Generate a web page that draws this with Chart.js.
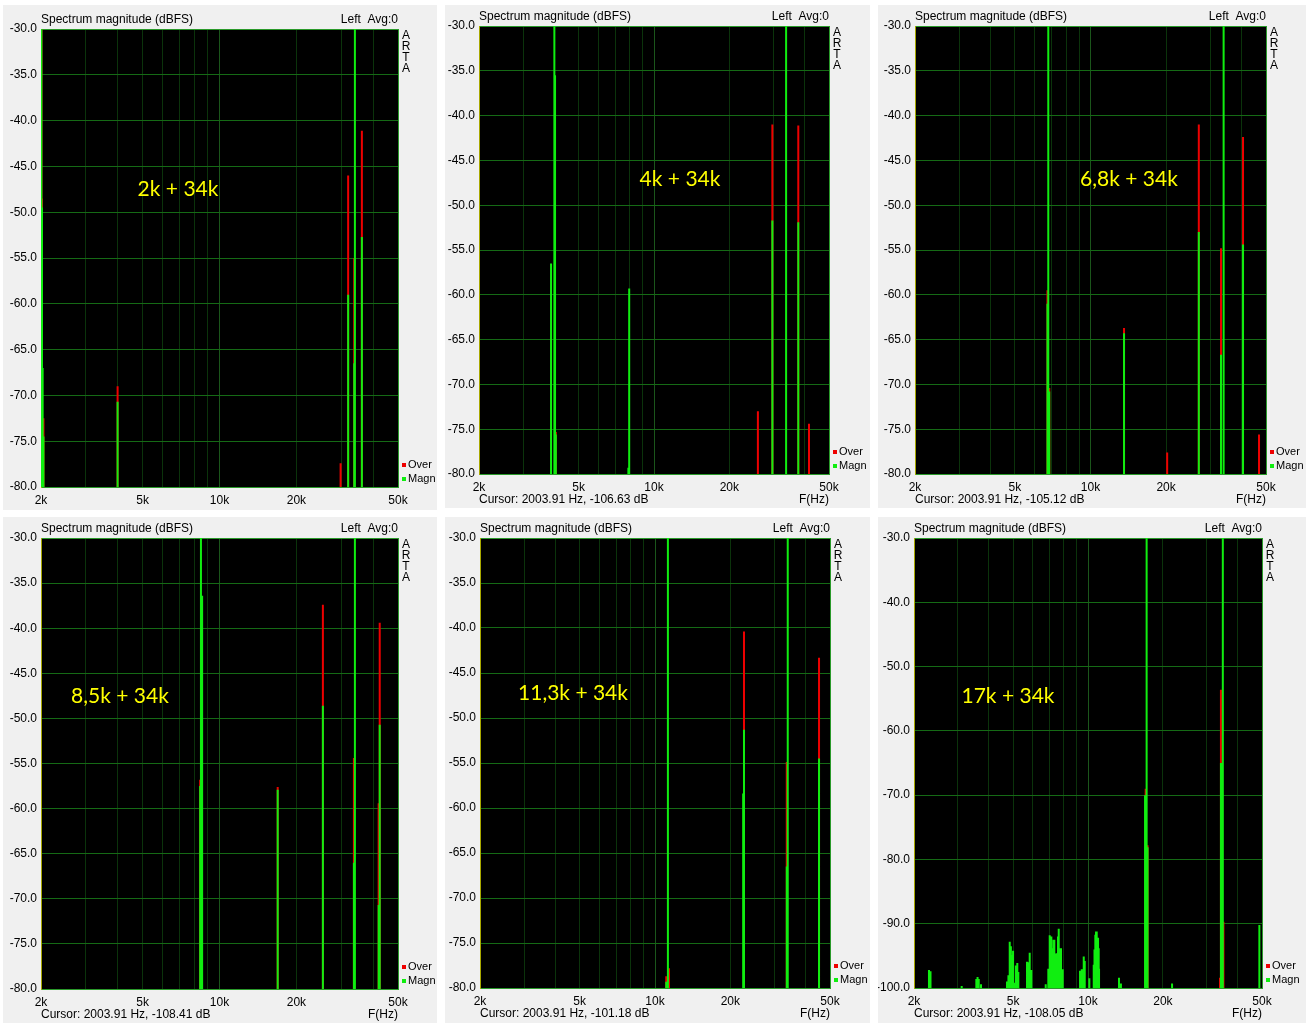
<!DOCTYPE html>
<html lang="en">
<head>
<meta charset="UTF-8">
<title>ARTA spectrum - two tone IMD</title>
<script src="https://cdn.jsdelivr.net/npm/chart.js@4"></script>
<style>
  body { margin: 0; background: #fff; width: 1311px; height: 1030px; position: relative; overflow: hidden; }
  canvas { position: absolute; background: #f0f0f0; }
</style>
</head>
<body>
<canvas id="c1"></canvas>
<canvas id="c2"></canvas>
<canvas id="c3"></canvas>
<canvas id="c4"></canvas>
<canvas id="c5"></canvas>
<canvas id="c6"></canvas>
<script>
// ---- data (Hz / dBFS) ----
const xTicks = [2000, 3000, 4000, 5000, 6000, 7000, 8000, 9000, 10000, 20000, 30000, 40000, 50000];
const xLabelVals = [2000, 5000, 10000, 20000, 50000];
const xLabelText = ['2k', '5k', '10k', '20k', '50k'];

const toneLabels = ['2k + 34k', '4k + 34k', '6,8k + 34k', '8,5k + 34k', '11,3k + 34k', '17k + 34k'];
const cursorText = ['', 'Cursor: 2003.91 Hz, -106.63 dB', 'Cursor: 2003.91 Hz, -105.12 dB',
                    'Cursor: 2003.91 Hz, -108.41 dB', 'Cursor: 2003.91 Hz, -101.18 dB', 'Cursor: 2003.91 Hz, -108.05 dB'];

const p1Freq = [2008, 2018, 2030, 2045, 3990, 29800, 31900, 33700, 33900, 36100];
const p1Magn = [-30, -49.5, -67, -74.5, -70.7, null, -59, -66.5, -30, -52.7];
const p1Over = [-30, -48.5, null, -72.5, -69, -77.4, -46, -55, null, -41.1];

const p2Freq = [3880, 4000, 4025, 4054, 7900, 7960, 26000, 29700, 33700, 37700, 41600];
const p2Magn = [-56.5, -30, -35.5, -75.6, -79.3, -59.3, null, -51.7, -30, -51.9, null];
const p2Over = [null, null, null, -75.3, null, null, -73, -41, null, -41.1, -74.4];

const p3Freq = [6740, 6790, 6850, 13600, 20200, 27000, 33100, 33900, 40500, 46900];
const p3Magn = [-61, -30, -70.8, -64.3, null, -53, -66.7, -30, -54.4, null];
const p3Over = [-59.5, null, -70.4, -63.7, -77.6, -41, -54.8, null, -42.4, -75.6];

const p4Freq = [8400, 8430, 8460, 8550, 16900, 25400, 33600, 33900, 42000, 42400];
const p4Magn = [-57.5, -57.5, -30, -36.4, -57.9, -48.6, -66, -30, -70.7, -50.7];
const p4Over = [-56.8, null, null, null, -57.6, -37.4, -54.4, null, -59.4, -39.4];

const p5Freq = [11090, 11260, 11370, 22500, 22670, 33600, 33900, 45200];
const p5Magn = [-79.3, -30, null, -58.4, -51.3, -66.5, -30, -54.5];
const p5Over = [-78.7, null, -77.8, null, -40.4, -54.9, null, -43.3];

const p6Freq = [13320, 13560, 16950, 17050, 17200, 17350, 21760, 33900, 34200, 34800, 35000, 48800];
const p6Magn = [-98.4, -99.3, -70, -70, -30, -78.1, -99.3, null, -65, -30, null, -90.2];
const p6Over = [null, null, null, -69, null, -77.8, null, -98.4, -53.6, null, -89.7, null];

// noise floor bits in the 17k panel
const n6Freq = [2297, 2330, 3109, 3560, 3600, 3640, 3717,
  4727, 4790, 4848, 4900, 4950, 5000, 5060, 5130, 5200, 5250,
  5689, 5734, 5779, 5832, 5876, 5920, 6763,
  6928, 6973, 7018, 7070, 7123, 7170, 7217, 7270, 7324, 7370, 7419, 7474, 7529, 7578, 7628, 7674, 7720, 7755, 7791, 7850, 7914,
  9290, 9360, 9439, 9525, 9614, 9703, 10126,
  10545, 10620, 10701, 10770, 10840, 10905, 10973, 11040, 11075];
const n6Magn = [-97.2, -97.4, -99.7, -98.6, -98.3, -98.6, -99.4,
  -99, -98, -92.8, -93.5, -94.9, -94.2, -99.2, -96.5, -96.1, -97.5,
  -95.9, -96.3, -96, -94.5, -97.2, -97.2, -99.4,
  -97, -97, -91.8, -92.4, -92, -93.8, -93.8, -92.5, -92.5, -94.7, -94.7, -94.6, -94.6, -92, -90.8, -94.6, -94.6, -93.8, -93.8, -97.1, -97.1,
  -97.3, -97.3, -97.1, -99, -95.1, -95.8, -98.5,
  -96.4, -94, -91.7, -91.2, -91.2, -92.2, -92.2, -93.8, -97];

// ---- look ----
const GREEN = '#10ee10';
const RED = '#ee0000';
const FRAME = '#2a9a2a';
const FONT = '"Liberation Sans", Arial, sans-serif';

// each spike is a vertical segment floor -> value, gaps break the line
function spikeLine(freq, vals, floor) {
  const pts = [];
  freq.forEach(function (f, i) {
    if (vals[i] == null) return;
    pts.push({ x: f, y: floor }, { x: f, y: vals[i] }, { x: f, y: null });
  });
  return pts;
}

const blackArea = {
  id: 'blackArea',
  beforeDraw(chart) {
    const a = chart.chartArea;
    chart.ctx.save();
    chart.ctx.fillStyle = '#000';
    chart.ctx.fillRect(a.left, a.top, a.right - a.left, a.bottom - a.top);
    chart.ctx.restore();
  }
};

const artaText = {
  id: 'artaText',
  afterDraw(chart, args, o) {
    const ctx = chart.ctx, a = chart.chartArea;
    ctx.save();
    ctx.fillStyle = '#000';
    ctx.font = '12px ' + FONT;
    ctx.textBaseline = 'middle';
    ctx.textAlign = 'left';
    ctx.fillText('Spectrum magnitude (dBFS)', a.left, a.top - 9);
    ctx.textAlign = 'right';
    ctx.fillText('Left  Avg:0', a.right, a.top - 9);
    ctx.textAlign = 'center';
    'ARTA'.split('').forEach(function (c, i) { ctx.fillText(c, a.right + 8, a.top + 7 + i * 11); });

    ctx.font = '11px ' + FONT;
    ctx.textAlign = 'left';
    ctx.fillStyle = RED;
    ctx.fillRect(a.right + 4, a.bottom - 24, 4, 4);
    ctx.fillStyle = GREEN;
    ctx.fillRect(a.right + 4, a.bottom - 10, 4, 4);
    ctx.fillStyle = '#000';
    ctx.fillText('Over', a.right + 10, a.bottom - 22);
    ctx.fillText('Magn', a.right + 10, a.bottom - 8);

    if (o.cursor) {
      ctx.font = '12px ' + FONT;
      ctx.fillText(o.cursor, a.left, a.bottom + 26);
      ctx.textAlign = 'right';
      ctx.fillText('F(Hz)', a.right, a.bottom + 26);
    }

    ctx.font = '21px Lato, "Open Sans", sans-serif';
    ctx.fillStyle = '#ffff00';
    ctx.textAlign = 'center';
    ctx.fillText(o.label, o.lx, o.ly);
    ctx.restore();
  }
};

function makeChart(id, box, area, floor, step, sets, label, labelPos, cursor) {
  const cv = document.getElementById(id);
  cv.width = box[2]; cv.height = box[3];
  cv.style.left = box[0] + 'px'; cv.style.top = box[1] + 'px';

  return new Chart(cv, {
    type: 'line',
    data: { datasets: sets },
    plugins: [blackArea, artaText],
    options: {
      responsive: false,
      animation: false,
      devicePixelRatio: 1,
      events: [],
      layout: { padding: { left: 0, top: area[1] - box[1], right: box[0] + box[2] - area[2], bottom: 0 } },
      elements: {
        line: { borderWidth: 2, tension: 0, borderCapStyle: 'butt', fill: false },
        point: { radius: 0 }
      },
      plugins: {
        legend: { display: false },
        tooltip: { enabled: false },
        artaText: { label: label, lx: labelPos[0] - box[0], ly: labelPos[1] - box[1], cursor: cursor }
      },
      scales: {
        x: {
          type: 'logarithmic',
          min: 2000,
          max: 50000,
          afterFit: function (s) { s.height = box[1] + box[3] - area[3]; },
          afterBuildTicks: function (s) { s.ticks = xTicks.map(function (v) { return { value: v }; }); },
          ticks: {
            autoSkip: false, maxRotation: 0, padding: 6, color: '#000',
            font: { family: FONT, size: 12 },
            callback: function (v) { const i = xLabelVals.indexOf(v); return i < 0 ? '' : xLabelText[i]; }
          },
          grid: {
            drawTicks: false,
            color: function (c) {
              const v = c.tick.value;
              if (v === 50000) return FRAME;
              if (v === 10000) return '#1b561b';
              return '#0b330b';
            }
          },
          border: { color: FRAME }
        },
        y: {
          min: floor,
          max: -30,
          afterFit: function (s) { s.width = area[0] - box[0]; },
          ticks: {
            stepSize: step, padding: 4, color: '#000',
            font: { family: FONT, size: 12 },
            callback: function (v) { return v.toFixed(1); }
          },
          grid: {
            drawTicks: false,
            color: function (c) { return c.tick.value === -30 || c.tick.value === floor ? FRAME : '#156a15'; }
          },
          border: { color: '#a8a800' }
        }
      }
    }
  });
}

function spikeSets(freq, magn, over, floor) {
  return [
    { label: 'Magn', data: spikeLine(freq, magn, floor), borderColor: GREEN, order: 0 },
    { label: 'Over', data: spikeLine(freq, over, floor), borderColor: RED, order: 1 }
  ];
}

makeChart('c1', [3, 5, 434, 505], [41, 29, 398, 487], -80, 5,
  spikeSets(p1Freq, p1Magn, p1Over, -80), toneLabels[0], [178, 189], cursorText[0]);
makeChart('c2', [445, 5, 425, 503], [479, 26, 829, 474], -80, 5,
  spikeSets(p2Freq, p2Magn, p2Over, -80), toneLabels[1], [680, 179], cursorText[1]);
makeChart('c3', [878, 5, 428, 503], [915, 26, 1266, 474], -80, 5,
  spikeSets(p3Freq, p3Magn, p3Over, -80), toneLabels[2], [1129, 179], cursorText[2]);
makeChart('c4', [3, 517, 434, 506], [41, 538, 398, 989], -80, 5,
  spikeSets(p4Freq, p4Magn, p4Over, -80), toneLabels[3], [120, 696], cursorText[3]);
makeChart('c5', [445, 517, 425, 506], [480, 538, 830, 988], -80, 5,
  spikeSets(p5Freq, p5Magn, p5Over, -80), toneLabels[4], [573, 693], cursorText[4]);

const sets6 = spikeSets(p6Freq, p6Magn, p6Over, -100);
sets6.push({ label: 'Noise', data: spikeLine(n6Freq, n6Magn, -100), borderColor: GREEN, order: 0 });
makeChart('c6', [878, 517, 428, 506], [914, 538, 1262, 988], -100, 10,
  sets6, toneLabels[5], [1008, 696], cursorText[5]);
</script>
</body>
</html>
